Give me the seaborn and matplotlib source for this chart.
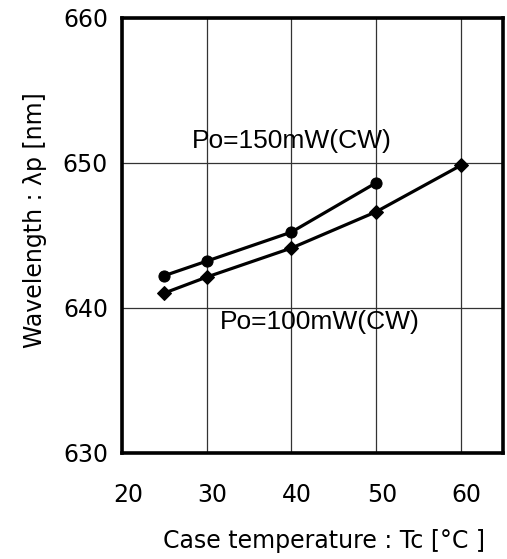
"""
Peak wavelength vs case temperature (two output powers).
"""
import pandas as pd
import matplotlib.pyplot as plt
import matplotlib.transforms as mtransforms
import seaborn as sns

sns.set_theme(style="white")
plt.rcParams["font.family"] = ["DejaVu Sans"]

# ---------- data ----------
temp_150 = [25, 30, 40, 50]
wl_150 = [642.2, 643.2, 645.2, 648.6]
temp_100 = [25, 30, 40, 50, 60]
wl_100 = [641.0, 642.1, 644.1, 646.6, 649.8]

x_ticks = [20, 30, 40, 50, 60]
y_ticks = [630, 640, 650, 660]

df_150 = pd.DataFrame({"Tc": temp_150, "wl": wl_150})
df_100 = pd.DataFrame({"Tc": temp_100, "wl": wl_100})

fig = plt.figure(figsize=(5.07, 5.59), dpi=100)
ax = fig.add_axes([0.2406, 0.1905, 0.7515, 0.778])

sns.lineplot(data=df_150, x="Tc", y="wl", ax=ax, color="black", linewidth=2.3,
             marker="o", markersize=8, markeredgecolor="black", zorder=3)
sns.lineplot(data=df_100, x="Tc", y="wl", ax=ax, color="black", linewidth=2.3,
             marker="D", markersize=7.5, markeredgecolor="black", zorder=3)

ax.set_xlim(20, 65)
ax.set_ylim(630, 660)
ax.set_xticks(x_ticks)
ax.set_yticks(y_ticks)
ax.grid(True, color="#333333", linewidth=0.9)
ax.set_axisbelow(True)
for s in ax.spines.values():
    s.set_color("black")
    s.set_linewidth(2.6)

ax.tick_params(axis="both", length=0, labelsize=17, colors="black")
ax.tick_params(axis="x", pad=22)
ax.tick_params(axis="y", pad=10)
# x tick labels sit a little right of their gridlines in the original
shift = mtransforms.ScaledTranslation(6 / 100, 0, fig.dpi_scale_trans)
for lab in ax.get_xticklabels():
    lab.set_transform(lab.get_transform() + shift)

ax.set_xlabel("Case temperature : Tc [°C ]", fontsize=17, color="black")
ax.set_ylabel("Wavelength : λp [nm]", fontsize=17, color="black")
ax.xaxis.set_label_coords(0.530, -0.176)
ax.yaxis.set_label_coords(-0.197, 0.534)

ax.text(40, 651.5, "Po=150mW(CW)", ha="center", va="center", fontsize=19,
        family=["Liberation Sans", "DejaVu Sans"], color="black")
ax.text(43.4, 639.0, "Po=100mW(CW)", ha="center", va="center", fontsize=19,
        family=["Liberation Sans", "DejaVu Sans"], color="black")

plt.savefig("out.png", dpi=100)
plt.close()
